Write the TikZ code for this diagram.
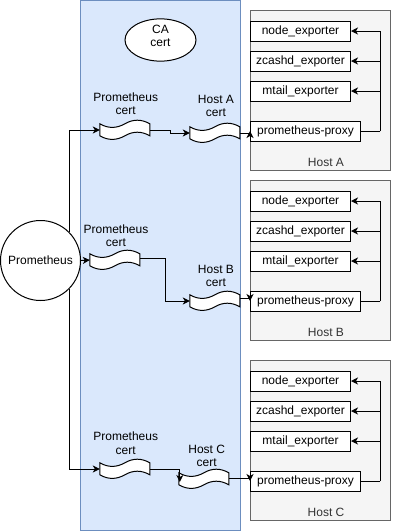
\documentclass[tikz,border=0pt]{standalone}
\usepackage{fontspec}
\setmainfont{Liberation Sans}
\usetikzlibrary{arrows.meta,calc,shapes.geometric}
\definecolor{bluefill}{HTML}{DAE8FC}
\definecolor{bluestroke}{HTML}{6C8EBF}
\definecolor{grayfill}{HTML}{F5F5F5}
\definecolor{graystroke}{HTML}{666666}
\definecolor{grayfont}{HTML}{333333}
\newcommand\certtape[3]{%
  \node[tapebox] (#1) at (#2,#3) {};
  \draw[tapeline,shift={(#1.north west)}] (0,4) .. controls (8.333,8.8) and (16.667,8.8) .. (25,4)
    .. controls (33.333,-0.8) and (41.667,-0.8) .. (50,4) -- (50,16)
    .. controls (41.667,11.2) and (33.333,11.2) .. (25,16)
    .. controls (16.667,20.8) and (8.333,20.8) .. (0,16) -- cycle;
}
\begin{document}
\begin{tikzpicture}[x=1pt,y=-1pt,
  every node/.style={font=\fontsize{12}{13.5}\selectfont, inner sep=0pt},
  zone/.style={draw=bluestroke, fill=bluefill, line width=1pt, minimum width=160pt, minimum height=530pt},
  hostbox/.style={draw=graystroke, fill=grayfill, line width=1pt, minimum width=140pt, minimum height=160pt},
  hostlabel/.style={text=grayfont},
  svc/.style={draw=black, fill=white, line width=1pt, minimum width=100pt, minimum height=20pt},
  proxybox/.style={svc, minimum width=110pt},
  tapebox/.style={minimum width=50pt, minimum height=20pt},
  tapeline/.style={draw=black, fill=white, line width=1pt},
  lbl/.style={align=center},
  conn/.style={draw=black, line width=1pt},
  arr/.style={conn, -{Stealth[length=7pt,width=7pt,inset=2pt]}},
]
\useasboundingbox (0,0) rectangle (401,531);
\fill[white] (0,0) rectangle (401,531);
\node[zone] (zone) at (160.5,265.5) {};
\node[draw, ellipse, line width=1pt, fill=white, minimum width=71pt, minimum height=40pt, align=center, text depth=8pt] (ca) at (160.5,40) {CA\\cert};
\foreach \T/\H in {10/A,180/B,360/C}{
  \node[hostbox] (host\H) at (320.5,\T+80.5) {};
  \node[hostlabel] (hostlbl\H) at (326,\T+152) {Host \H};
  \node[svc] (node\H) at (300.5,\T+21) {node\_exporter};
  \node[svc] (zcashd\H) at (300.5,\T+51) {zcashd\_exporter};
  \node[svc] (mtail\H) at (300.5,\T+81) {mtail\_exporter};
  \node[proxybox] (proxy\H) at (305.5,\T+121) {prometheus-proxy};
  \coordinate (bus\H) at (380,\T+121);
  \draw[conn] (proxy\H.east) -- (bus\H);
  \draw[arr] (bus\H) |- (node\H.east);
  \draw[arr] (bus\H) |- (zcashd\H.east);
  \draw[arr] (bus\H) |- (mtail\H.east);
}
\certtape{pcA}{125}{130}
\certtape{hcA}{215}{133}
\certtape{pcB}{115}{260}
\certtape{hcB}{215}{301}
\certtape{pcC}{125}{469}
\certtape{hcC}{204}{479}
\node[lbl] (pcAl) at (125.7,103.5) {Prometheus\\cert};
\node[lbl] (hcAl) at (216,106) {Host A\\cert};
\node[lbl] (pcBl) at (116,235.7) {Prometheus\\cert};
\node[lbl] (hcBl) at (216,275.7) {Host B\\cert};
\node[lbl] (pcCl) at (125.7,443.3) {Prometheus\\cert};
\node[lbl] (hcCl) at (206.7,456) {Host C\\cert};
\node[draw, circle, line width=1pt, fill=white, minimum size=80pt] (prom) at (40.5,260.5) {Prometheus};
\draw[arr] (prom.45) |- (pcA.west);
\draw[arr] (prom.-45) |- (pcC.west);
\draw[arr] (prom.east) -- (pcB.west);
\draw[arr] (pcA.east) -- ++(20,0) |- (hcA.west);
\draw[arr] (hcA.east) -| (proxyA.west);
\draw[arr] ([yshift=2pt]pcB.east) -- ++(25,0) |- (hcB.west);
\draw[arr] ([yshift=3pt]hcB.east) -| (proxyB.west);
\draw[arr] (pcC.east) -| ([xshift=1pt,yshift=-3pt]hcC.west);
\draw[arr] ([yshift=1pt]hcC.east) -| (proxyC.west);
\end{tikzpicture}
\end{document}
